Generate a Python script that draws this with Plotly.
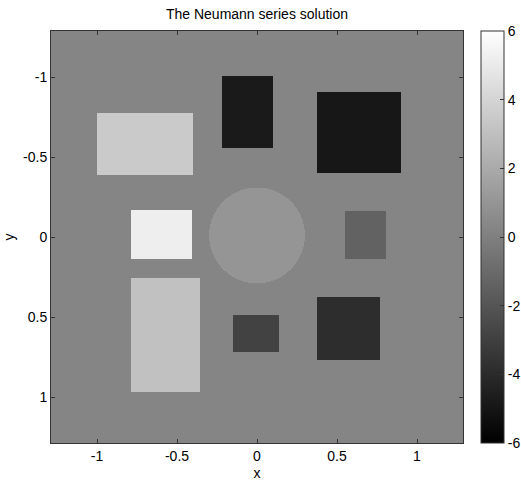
import numpy as np
import plotly.graph_objects as go

# Rectangles: x-range, y-range, value
rect_x0 = [-1.00, -0.22, 0.375, -0.79, 0.55, -0.79, -0.15, 0.375]
rect_x1 = [-0.40, 0.10, 0.90, -0.41, 0.81, -0.36, 0.14, 0.77]
rect_y0 = [-0.78, -1.01, -0.91, -0.17, -0.16, 0.255, 0.49, 0.375]
rect_y1 = [-0.39, -0.555, -0.40, 0.14, 0.14, 0.97, 0.72, 0.77]
rect_val = [3.5, -4.8, -4.9, 5.2, -1.4, 3.1, -2.9, -3.9]

circle_cx = [0.0]
circle_cy = [-0.01]
circle_r = [0.30]
circle_val = [1.0]

background_val = 0.25
extent = 1.2875
n = 412

axis_ticks = [-1, -0.5, 0, 0.5, 1]
axis_ticktext = ["-1", "-0.5", "0", "0.5", "1"]
cbar_ticks = [-6, -4, -2, 0, 2, 4, 6]
cbar_ticktext = ["-6", "-4", "-2", "0", "2", "4", "6"]

xs = np.linspace(-extent, extent, n)
ys = np.linspace(-extent, extent, n)
X, Y = np.meshgrid(xs, ys)
Z = np.full_like(X, background_val)
for cx, cy, r, v in zip(circle_cx, circle_cy, circle_r, circle_val):
    Z[(X - cx) ** 2 + (Y - cy) ** 2 <= r ** 2] = v
for x0, x1, y0, y1, v in zip(rect_x0, rect_x1, rect_y0, rect_y1, rect_val):
    Z[(X >= x0) & (X <= x1) & (Y >= y0) & (Y <= y1)] = v

font = dict(family="Liberation Sans, Arial, sans-serif", size=14, color="#000")

fig = go.Figure(go.Heatmap(
    x=xs, y=ys, z=Z, zmin=-6, zmax=6,
    colorscale=[[0, "#000000"], [1, "#ffffff"]],
    zsmooth=False,
    colorbar=dict(
        x=(481 - 51) / 412, xanchor="left", xpad=0, ypad=0,
        y=0.5, yanchor="middle", len=1, lenmode="fraction",
        thickness=23, outlinewidth=1, outlinecolor="#333",
        tickvals=cbar_ticks, ticktext=cbar_ticktext, ticks="inside", ticklen=4,
        tickcolor="#333", tickfont=font,
    ),
))

axis_common = dict(
    showgrid=False, zeroline=False, showline=True, linecolor="#333",
    linewidth=1, mirror="ticks", ticks="inside", ticklen=4, tickcolor="#333",
    tickfont=font,
)
fig.update_xaxes(range=[-extent, extent], tickvals=axis_ticks, ticktext=axis_ticktext,
                 title=dict(text="x", font=font, standoff=5), **axis_common)
fig.update_yaxes(range=[extent, -extent], tickvals=axis_ticks, ticktext=axis_ticktext,
                 title=dict(text="y", font=font, standoff=5), **axis_common)

fig.update_layout(
    width=521, height=482,
    margin=dict(l=51, r=58, t=31, b=39, autoexpand=False),
    paper_bgcolor="white", plot_bgcolor="white",
    title=dict(text="The Neumann series solution", x=(51 + 206) / 521, xanchor="center",
               y=1 - 14 / 482, yanchor="middle", font=font),
    font=font,
)

fig.write_html("out.html")
